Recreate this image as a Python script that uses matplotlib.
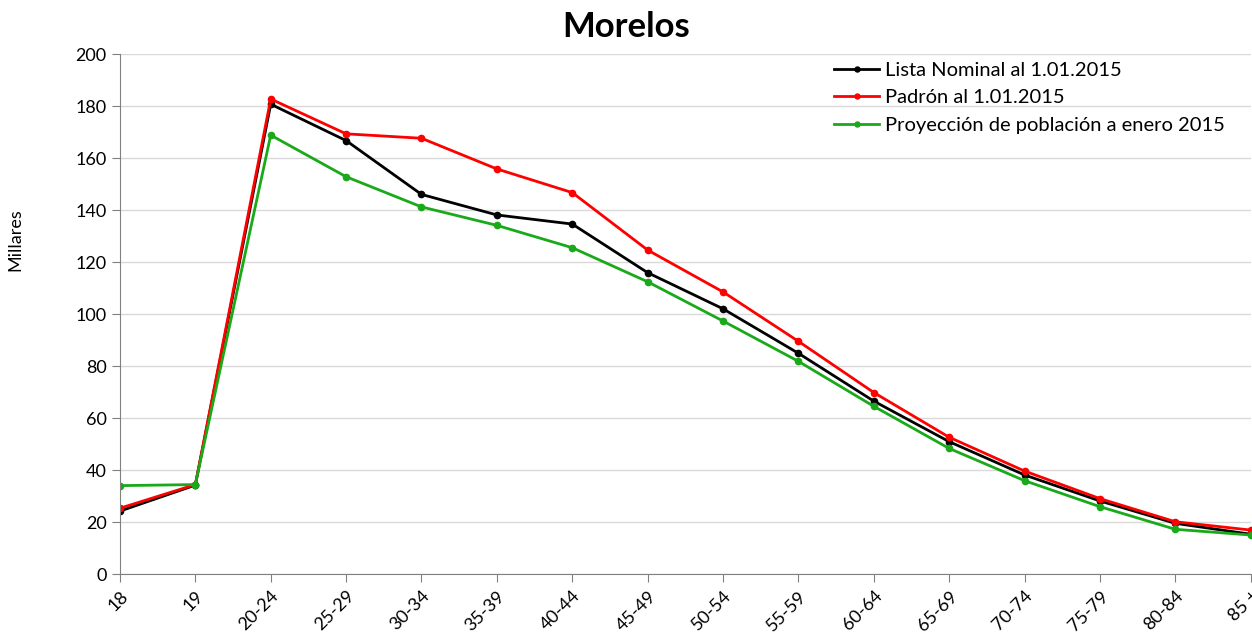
import numpy as np
import matplotlib.pyplot as plt

plt.rcParams['font.family'] = ['Lato', 'DejaVu Sans']

# Grupos de edad
edades = ['18', '19', '20-24', '25-29', '30-34', '35-39', '40-44', '45-49',
          '50-54', '55-59', '60-64', '65-69', '70-74', '75-79', '80-84', '85 +']

# Miles de personas por grupo
lista_nominal = [24.2, 34.2, 180.7, 166.7, 146.0, 138.1, 134.6, 115.9,
                 102.0, 84.9, 66.5, 50.9, 38.1, 28.1, 19.5, 15.3]
padron = [25.3, 34.4, 182.7, 169.3, 167.6, 155.8, 146.7, 124.6,
          108.5, 89.5, 69.8, 52.6, 39.6, 29.0, 20.1, 16.9]
proyeccion = [34.0, 34.4, 168.8, 152.8, 141.2, 134.1, 125.5, 112.4,
              97.3, 81.8, 64.5, 48.3, 35.9, 25.9, 17.2, 15.0]

fig = plt.figure(figsize=(12.52, 6.34), dpi=100)
ax = fig.add_axes([0.0958, 0.0946, 0.9032, 0.8202])

x = np.arange(len(edades))
estilo = dict(lw=2, marker='o', ms=4.5)
ax.plot(x, lista_nominal, color='black', label='Lista Nominal al 1.01.2015', **estilo)
ax.plot(x, padron, color='#ff0000', label='Padrón al 1.01.2015', **estilo)
ax.plot(x, proyeccion, color='#19a919', label='Proyección de población a enero 2015', **estilo)

ax.set_xlim(0, len(edades) - 1)
ax.set_ylim(0, 200)
ax.set_yticks(range(0, 201, 20))
ax.set_xticks(x)
ax.set_xticklabels(edades, rotation=45, ha='right', rotation_mode='anchor')
ax.tick_params(labelsize=13, colors='#808080', labelcolor='black', length=6)
ax.tick_params(axis='x', pad=4)

ax.grid(axis='y', color='#d9d9d9', lw=1)
ax.set_axisbelow(True)
for lado in ['top', 'right']:
    ax.spines[lado].set_visible(False)
for lado in ['left', 'bottom']:
    ax.spines[lado].set_color('#808080')

ax.set_ylabel('Millares', fontsize=13)
ax.yaxis.set_label_coords(-0.085, 0.644)
fig.suptitle('Morelos', fontsize=25, fontweight='bold', x=0.5, y=0.957, va='center')

ax.legend(loc='upper right', bbox_to_anchor=(0.993, 1.02), frameon=False,
          fontsize=14.5, handlelength=2.2, handletextpad=0.3, labelspacing=0.52,
          markerscale=0.8)

fig.savefig('out.png', dpi=100)
